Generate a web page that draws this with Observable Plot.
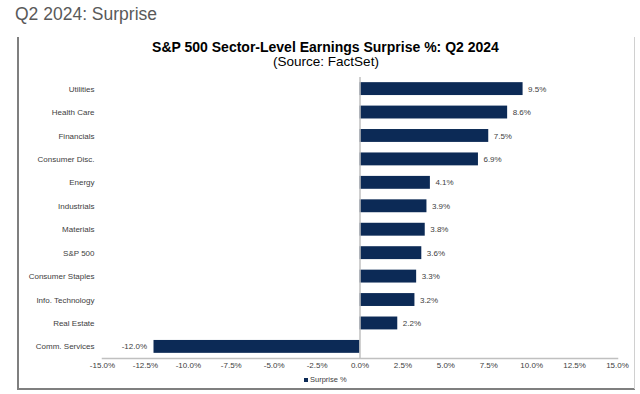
<!DOCTYPE html>
<html>
<head>
<meta charset="utf-8">
<script src="https://cdn.jsdelivr.net/npm/d3@7"></script>
<script src="https://cdn.jsdelivr.net/npm/@observablehq/plot@0.6"></script>
<style>
  html, body { margin: 0; padding: 0; background: #fff; }
  #wrap { position: relative; width: 640px; height: 394px; overflow: hidden; font-family: Arial, "Liberation Sans", sans-serif; }
  #wrap svg { position: absolute; left: 0; top: 0; }
  .abs { position: absolute; white-space: nowrap; }
</style>
</head>
<body>
<div id="wrap">
  <div class="abs" style="left:15px; top:4px; font-size:17.5px; color:#595959;">Q2 2024: Surprise</div>
  <div class="abs" style="left:17px; top:37px; width:2px; height:353px; background:#7f7f7f;"></div>
  <div class="abs" style="left:17px; top:388px; width:618px; height:2px; background:#7f7f7f;"></div>
  <div class="abs" style="left:634px; top:37px; width:1px; height:352px; background:#d0d0d0;"></div>
  <div class="abs" style="left:0; width:651px; top:39px; text-align:center; font-size:14px; font-weight:bold; color:#000; line-height:16px;">S&amp;P 500 Sector-Level Earnings Surprise %: Q2 2024</div>
  <div class="abs" style="left:0; width:652px; top:54px; text-align:center; font-size:13.5px; color:#000; line-height:16px;">(Source: FactSet)</div>
  <div class="abs" style="left:304px; top:375px; font-size:7.5px; color:#404040;"><span style="display:inline-block;width:4px;height:4px;background:#0c2a56;margin-right:2px;vertical-align:middle;"></span>Surprise %</div>
</div>
<script>
const sectors = ["Utilities","Health Care","Financials","Consumer Disc.","Energy","Industrials","Materials","S&P 500","Consumer Staples","Info. Technology","Real Estate","Comm. Services"];
const values = [9.5, 8.6, 7.5, 6.9, 4.1, 3.9, 3.8, 3.6, 3.3, 3.2, 2.2, -12.0];
const xTicks = [-15, -12.5, -10, -7.5, -5, -2.5, 0, 2.5, 5, 7.5, 10, 12.5, 15];

const data = sectors.map((s, i) => ({sector: s, value: values[i]}));
const fmt = v => v.toFixed(1) + "%";

const chart = Plot.plot({
  width: 640,
  height: 394,
  marginLeft: 102,
  marginRight: 23,
  marginTop: 77,
  marginBottom: 36,
  style: {fontFamily: "Arial, 'Liberation Sans', sans-serif", fontSize: "8px", color: "#404040", background: "transparent"},
  x: {domain: [-15, 15], ticks: xTicks, tickFormat: fmt, tickSize: 0, tickPadding: 4, label: null},
  y: {domain: sectors, paddingInner: 0.45, paddingOuter: 0.22, round: false, tickSize: 0, tickPadding: 8, label: null},
  marks: [
    Plot.barX(data, {x: "value", y: "sector", fill: "#0c2a56"}),
    Plot.ruleX([0], {stroke: "#c0c0c0", strokeWidth: 1.5}),
    Plot.frame({anchor: "bottom", stroke: "#c0c0c0", strokeWidth: 1.5}),
    Plot.text(data.filter(d => d.value >= 0), {x: "value", y: "sector", text: d => fmt(d.value), textAnchor: "start", dx: 5, fill: "#404040"}),
    Plot.text(data.filter(d => d.value < 0), {x: "value", y: "sector", text: d => fmt(d.value), textAnchor: "end", dx: -7, fill: "#404040"})
  ]
});
document.getElementById("wrap").appendChild(chart);
</script>
</body>
</html>
